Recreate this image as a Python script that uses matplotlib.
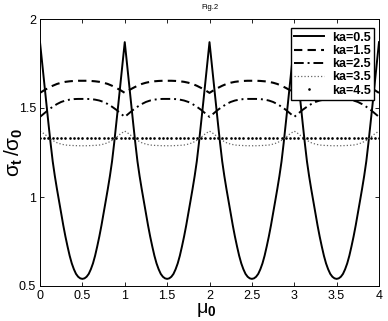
import numpy as np
import matplotlib
matplotlib.use("Agg")
import matplotlib.pyplot as plt

plt.rcParams["font.family"] = ["Liberation Sans", "DejaVu Sans"]
plt.rcParams["mathtext.fontset"] = "custom"
plt.rcParams["mathtext.rm"] = "Liberation Sans"
plt.rcParams["mathtext.it"] = "Liberation Sans"
plt.rcParams["mathtext.bf"] = "Liberation Sans:bold"

# ka=0.5 is read at 0.025 steps (sharp peaks), the rest at 0.05 steps
mu_fine = np.arange(161) * 0.025
mu = np.arange(81) * 0.05

ka05 = [1.870, 1.755, 1.640, 1.525, 1.412, 1.302, 1.200, 1.118, 1.045, 0.976, 0.907,
        0.840, 0.778, 0.722, 0.670, 0.627, 0.594, 0.568, 0.552, 0.543, 0.540,
        0.543, 0.552, 0.568, 0.594, 0.627, 0.670, 0.722, 0.778, 0.840, 0.907,
        0.976, 1.045, 1.118, 1.200, 1.302, 1.412, 1.525, 1.640, 1.755,
        1.870, 1.755, 1.640, 1.525, 1.412, 1.302, 1.200, 1.118, 1.045, 0.976, 0.907,
        0.840, 0.778, 0.722, 0.670, 0.627, 0.594, 0.568, 0.552, 0.543, 0.540,
        0.543, 0.552, 0.568, 0.594, 0.627, 0.670, 0.722, 0.778, 0.840, 0.907,
        0.976, 1.045, 1.118, 1.200, 1.302, 1.412, 1.525, 1.640, 1.755,
        1.870, 1.755, 1.640, 1.525, 1.412, 1.302, 1.200, 1.118, 1.045, 0.976, 0.907,
        0.840, 0.778, 0.722, 0.670, 0.627, 0.594, 0.568, 0.552, 0.543, 0.540,
        0.543, 0.552, 0.568, 0.594, 0.627, 0.670, 0.722, 0.778, 0.840, 0.907,
        0.976, 1.045, 1.118, 1.200, 1.302, 1.412, 1.525, 1.640, 1.755,
        1.870, 1.755, 1.640, 1.525, 1.412, 1.302, 1.200, 1.118, 1.045, 0.976, 0.907,
        0.840, 0.778, 0.722, 0.670, 0.627, 0.594, 0.568, 0.552, 0.543, 0.540,
        0.543, 0.552, 0.568, 0.594, 0.627, 0.670, 0.722, 0.778, 0.840, 0.907,
        0.976, 1.045, 1.118, 1.200, 1.302, 1.412, 1.525, 1.640, 1.755,
        1.870]
ka15 = [1.585, 1.600, 1.613, 1.625, 1.635, 1.642, 1.647, 1.650, 1.652, 1.653, 1.653,
        1.653, 1.652, 1.650, 1.647, 1.642, 1.635, 1.625, 1.613, 1.600, 1.585,
        1.600, 1.613, 1.625, 1.635, 1.642, 1.647, 1.650, 1.652, 1.653, 1.653,
        1.653, 1.652, 1.650, 1.647, 1.642, 1.635, 1.625, 1.613, 1.600, 1.585,
        1.600, 1.613, 1.625, 1.635, 1.642, 1.647, 1.650, 1.652, 1.653, 1.653,
        1.653, 1.652, 1.650, 1.647, 1.642, 1.635, 1.625, 1.613, 1.600, 1.585,
        1.600, 1.613, 1.625, 1.635, 1.642, 1.647, 1.650, 1.652, 1.653, 1.653,
        1.653, 1.652, 1.650, 1.647, 1.642, 1.635, 1.625, 1.613, 1.600, 1.585]
ka25 = [1.450, 1.470, 1.490, 1.507, 1.522, 1.534, 1.542, 1.547, 1.550, 1.551, 1.551,
        1.551, 1.550, 1.547, 1.542, 1.534, 1.522, 1.507, 1.490, 1.470, 1.450,
        1.470, 1.490, 1.507, 1.522, 1.534, 1.542, 1.547, 1.550, 1.551, 1.551,
        1.551, 1.550, 1.547, 1.542, 1.534, 1.522, 1.507, 1.490, 1.470, 1.450,
        1.470, 1.490, 1.507, 1.522, 1.534, 1.542, 1.547, 1.550, 1.551, 1.551,
        1.551, 1.550, 1.547, 1.542, 1.534, 1.522, 1.507, 1.490, 1.470, 1.450,
        1.470, 1.490, 1.507, 1.522, 1.534, 1.542, 1.547, 1.550, 1.551, 1.551,
        1.551, 1.550, 1.547, 1.542, 1.534, 1.522, 1.507, 1.490, 1.470, 1.450]
ka35 = [1.370, 1.355, 1.335, 1.318, 1.305, 1.297, 1.292, 1.290, 1.289, 1.288, 1.288,
        1.288, 1.289, 1.290, 1.292, 1.297, 1.305, 1.318, 1.335, 1.355, 1.370,
        1.355, 1.335, 1.318, 1.305, 1.297, 1.292, 1.290, 1.289, 1.288, 1.288,
        1.288, 1.289, 1.290, 1.292, 1.297, 1.305, 1.318, 1.335, 1.355, 1.370,
        1.355, 1.335, 1.318, 1.305, 1.297, 1.292, 1.290, 1.289, 1.288, 1.288,
        1.288, 1.289, 1.290, 1.292, 1.297, 1.305, 1.318, 1.335, 1.355, 1.370,
        1.355, 1.335, 1.318, 1.305, 1.297, 1.292, 1.290, 1.289, 1.288, 1.288,
        1.288, 1.289, 1.290, 1.292, 1.297, 1.305, 1.318, 1.335, 1.355, 1.370]
ka45 = [1.330] * 81

xticks = [0, 0.5, 1, 1.5, 2, 2.5, 3, 3.5, 4]
xtick_labels = ["0", "0.5", "1", "1.5", "2", "2.5", "3", "3.5", "4"]
yticks = [0.5, 1, 1.5, 2]
ytick_labels = ["0.5", "1", "1.5", "2"]

fig = plt.figure(figsize=(3.88, 3.21), dpi=100)
ax = fig.add_axes([40 / 388, 35 / 321, 339 / 388, 267 / 321])

ax.plot(mu_fine, ka05, "-", color="black", lw=1.4, label="ka=0.5")
ax.plot(mu, ka15, color="black", lw=1.5, dashes=(4, 2.5), label="ka=1.5")
ax.plot(mu, ka25, color="black", lw=1.4, dashes=(5, 2, 1, 2), label="ka=2.5")
ax.plot(mu, ka35, ":", color="0.4", lw=0.9, label="ka=3.5")
ax.plot(mu, ka45, ".", color="black", ms=1.8, label="ka=4.5")

ax.set_xlim(0, 4)
ax.set_ylim(0.5, 2)
ax.set_xticks(xticks)
ax.set_xticklabels(xtick_labels)
ax.set_yticks(yticks)
ax.set_yticklabels(ytick_labels)
ax.tick_params(direction="in", top=True, right=True, labelsize=9, length=3,
               width=0.6, pad=3)
for s in ax.spines.values():
    s.set_linewidth(0.7)

ax.set_xlabel(r"$\mu_{\mathbf{0}}$", fontsize=14)
ax.xaxis.set_label_coords(0.49, -0.055)
ax.set_ylabel(r"$\sigma_{\mathbf{t}}\,/\sigma_{\mathbf{0}}$", fontsize=15)
ax.yaxis.set_label_coords(-0.045, 0.5)
ax.set_title("Fig.2", fontsize=5.5, pad=7)

ax.legend(loc="upper right", bbox_to_anchor=(1.005, 0.99),
          prop={"weight": "bold", "size": 9}, handlelength=2.4,
          labelspacing=0.1, borderpad=0.3, handletextpad=0.6,
          fancybox=False, edgecolor="black", framealpha=1)

fig.savefig("out.png", dpi=100)
